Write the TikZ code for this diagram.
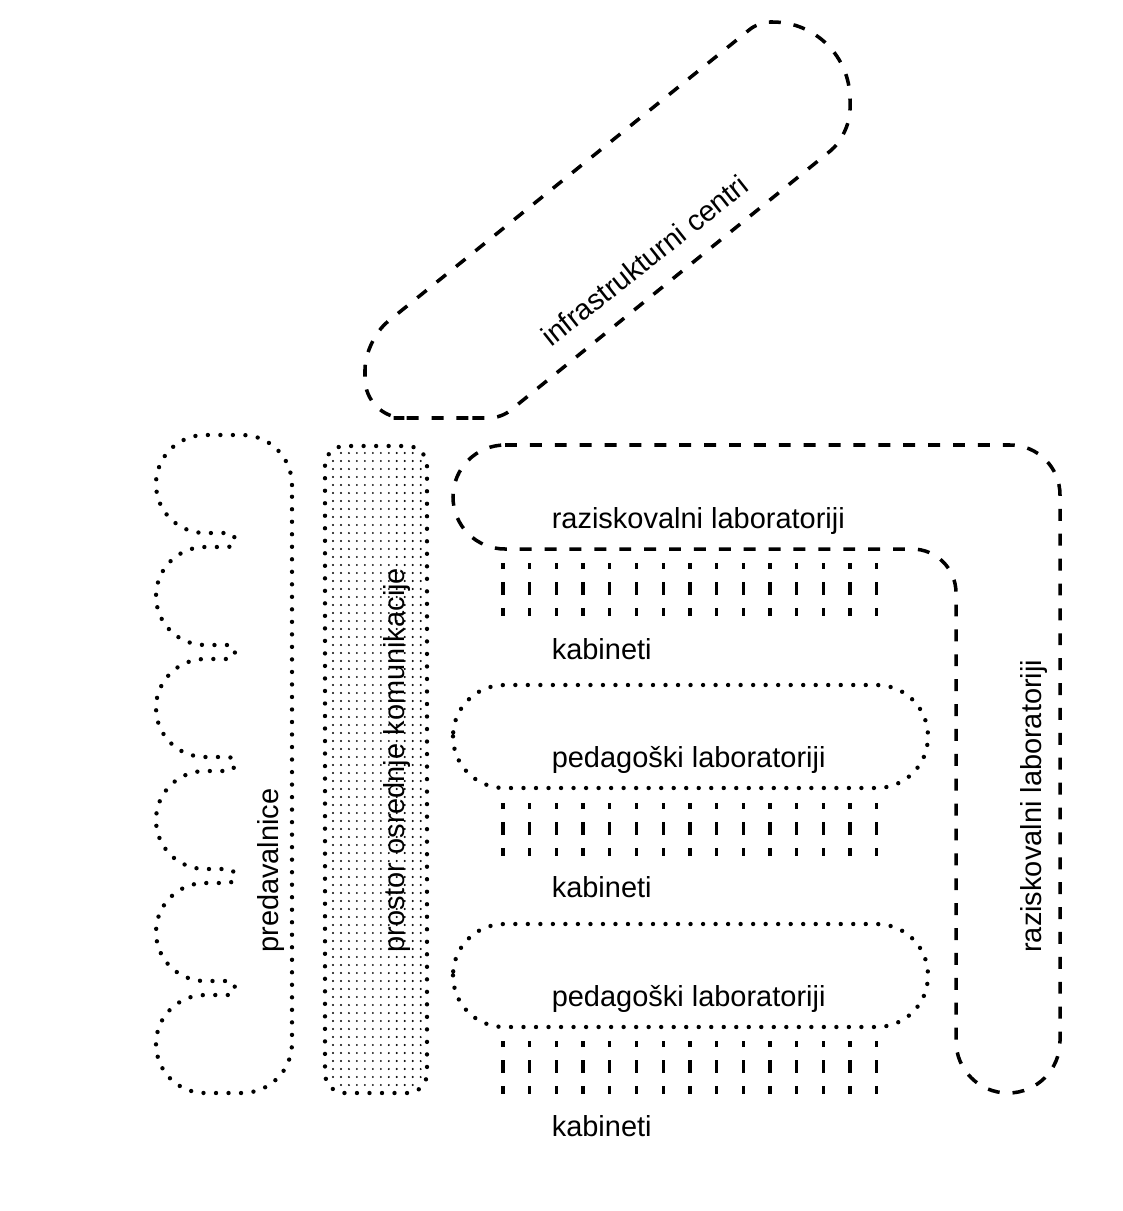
\documentclass[tikz,border=0pt]{standalone}
\usepackage{fontspec}
\setmainfont{Liberation Sans}
\usetikzlibrary{positioning}
\tikzset{
  lbl/.style={font=\fontsize{20.6}{24}\selectfont,inner sep=0pt},
  dotline/.style={line width=3.1pt,line cap=round,dash pattern=on 0pt off 8.9pt},
  dashline/.style={line width=2.5pt,dash pattern=on 8.5pt off 9.2pt},
  cabline/.style={line width=2.3pt,dash pattern=on 9.2pt off 9.2pt,dash phase=4.6pt},
  griddot/.style={line width=1.5pt,line cap=round,dash pattern=on 0pt off 5.67pt},
}

\begin{document}
\begin{tikzpicture}[x=0.025cm,y=-0.025cm]
  \useasboundingbox[fill=white] (0,0) rectangle (1123,1211);
  % predavalnice
  \draw[dotline] (292,485) arc[start angle=0,end angle=-90,radius=50] -- (205,435)
    arc[start angle=-90,end angle=-270,radius=49] -- (228,533) arc[start angle=-90,end angle=90,radius=7] -- (205,547)
    arc[start angle=-90,end angle=-270,radius=49] -- (228,645) arc[start angle=-90,end angle=90,radius=7] -- (205,659)
    arc[start angle=-90,end angle=-270,radius=49] -- (228,757) arc[start angle=-90,end angle=90,radius=7] -- (205,771)
    arc[start angle=-90,end angle=-270,radius=49] -- (228,869) arc[start angle=-90,end angle=90,radius=7] -- (205,883)
    arc[start angle=-90,end angle=-270,radius=49] -- (228,981) arc[start angle=-90,end angle=90,radius=7] -- (205,995)
    arc[start angle=-90,end angle=-270,radius=49] -- (242,1093) arc[start angle=90,end angle=0,radius=50] -- cycle;
  % prostor osrednje komunikacije
  \begin{scope}
    \clip[rounded corners=12pt] (329,450) rectangle (423,1089);
    \foreach \r in {0,...,79} {\draw[griddot] (333,453+8*\r) -- (430,453+8*\r);}
  \end{scope}
  \draw[dotline,rounded corners=14pt] (325,446) rectangle (427,1093);
  % raziskovalni laboratoriji
  \draw[dashline] (505,445) -- (1010,445) arc[start angle=-90,end angle=0,radius=50] -- (1060,1041)
    arc[start angle=0,end angle=180,radius=52] -- (956,593) arc[start angle=0,end angle=-90,radius=44]
    -- (505,549) arc[start angle=90,end angle=270,radius=52] -- cycle;
  % infrastrukturni centri
  \draw[dashline] (433,418) [rounded corners=8pt] -- (501,418) [rounded corners=18pt] -- (850,135)
    [rounded corners=55pt] -- (850,22) [rounded corners=8pt] -- (759,22) [rounded corners=21pt] -- (365,340)
    [rounded corners=28pt] -- (365,418) -- cycle;
  % pedagoski laboratoriji
  \draw[dotline,rounded corners=36.5pt] (453,685) rectangle (928,788);
  \draw[dotline,rounded corners=36.5pt] (453,924) rectangle (928,1027);
  % kabineti
  \foreach \y in {563,803,1041} {\foreach \k in {0,...,14} {\draw[cabline] (503+26.7*\k,\y) -- (503+26.7*\k,\y+53);}}
  \node[lbl,anchor=base west] (rl1) at (551.5,528) {raziskovalni laboratoriji};
  \node[lbl,anchor=base west] (kb1) at (551.5,659) {kabineti};
  \node[lbl,anchor=base west] (pl1) at (551.5,767) {pedagoški laboratoriji};
  \node[lbl,anchor=base west] (kb2) at (551.5,897) {kabineti};
  \node[lbl,anchor=base west] (pl2) at (551.5,1006) {pedagoški laboratoriji};
  \node[lbl,anchor=base west] (kb3) at (551.5,1136) {kabineti};
  \node[lbl,anchor=base west,rotate=90] (pv) at (278,953) {predavalnice};
  \node[lbl,anchor=base west,rotate=90] (pk) at (404,953) {prostor osrednje komunikacije};
  \node[lbl,anchor=base west,rotate=90] (rl2) at (1041,953) {raziskovalni laboratoriji};
  \node[lbl,anchor=base west,rotate=38.4] (ic) at (551,348) {infrastrukturni centri};
\end{tikzpicture}
\end{document}
